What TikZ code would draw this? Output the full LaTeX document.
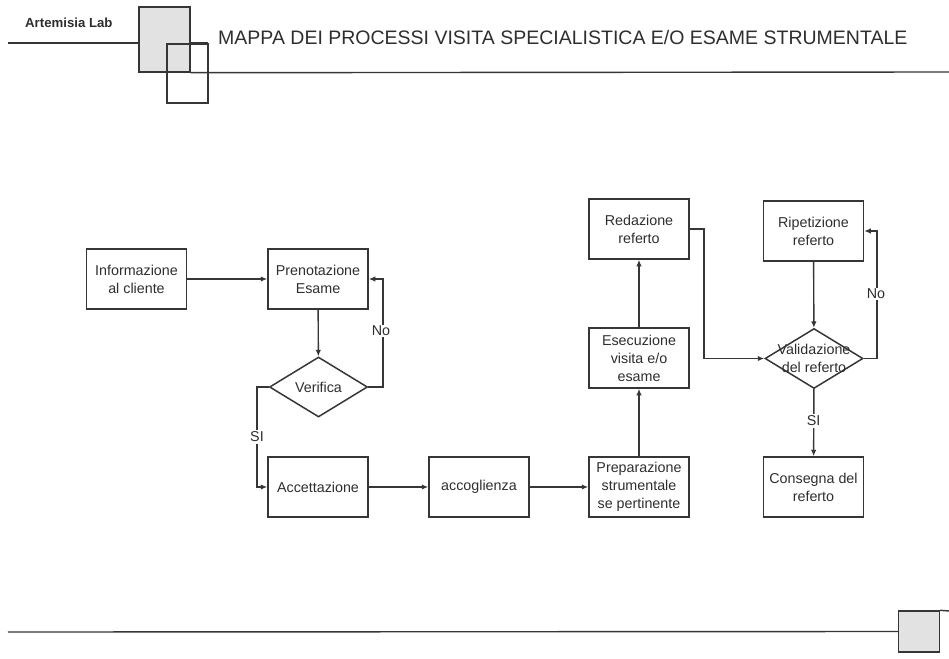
\documentclass[tikz,border=0pt]{standalone}
\usepackage{fontspec}
\setmainfont{Liberation Sans}
\usetikzlibrary{shapes.geometric,arrows.meta}
\definecolor{ln}{HTML}{363636}
\definecolor{tx}{HTML}{2E2E2E}
\definecolor{gbox}{HTML}{E2E2E2}
\begin{document}
\begin{tikzpicture}[x=1pt,y=-1pt,
  every node/.style={text=tx},
  box/.style={draw=ln,line width=1.5pt,minimum width=100pt,minimum height=60pt,inner sep=0pt,align=center,font=\fontsize{14.3}{18}\selectfont},
  dia/.style={draw=ln,line width=1.5pt,shape=diamond,minimum width=98pt,minimum height=60pt,inner sep=0pt},
  txt/.style={align=center,inner sep=0pt,font=\fontsize{14.3}{18}\selectfont},
  lbl/.style={fill=white,inner sep=1.5pt,font=\fontsize{14.3}{16}\selectfont},
  conn/.style={draw=ln,line width=1.4pt,-{Latex[length=6.5pt,width=5.5pt]}},
  deco/.style={draw=ln,line width=1.4pt}]
\useasboundingbox (0,0) rectangle (949,658);
% header
\draw[deco] (8,43) -- (208,43);
\node[deco,fill=gbox,minimum width=51pt,minimum height=65pt,inner sep=0pt] (g1) at (164.5,39.5) {};
\node[deco,minimum width=41pt,minimum height=59pt,inner sep=0pt] (g2) at (187.5,73.5) {};
\draw[deco] (g1.south east) -- (949,72);
\node[anchor=west,inner sep=0pt,font=\fontsize{13.2}{15}\selectfont\bfseries] (lab) at (25,23) {Artemisia Lab};
\node[anchor=west,inner sep=0pt,font=\fontsize{19.5}{22}\selectfont] (title) at (218,38) {MAPPA DEI PROCESSI VISITA SPECIALISTICA E/O ESAME STRUMENTALE};
% footer
\node[deco,fill=gbox,minimum width=41pt,minimum height=41pt,inner sep=0pt] (g3) at (919,631.5) {};
\draw[deco] (8,632) -- (g3.west);
\draw[deco] (g3.north east) -- (949,611);
% nodes
\node[box] (info) at (136.5,279) {Informazione\\al cliente};
\node[box] (pren) at (318,279) {Prenotazione\\Esame};
\node[dia] (ver) at (318.5,387) {};
\node[txt] (vert) at (ver) {Verifica};
\node[box] (acc) at (318,487) {Accettazione};
\node[box] (accog) at (479,487) {accoglienza};
\node[box] (prep) at (639,487) {Preparazione\\strumentale\\se pertinente};
\node[box] (ese) at (639,358) {Esecuzione\\visita e/o\\esame};
\node[box] (red) at (639,229) {Redazione\\referto};
\node[box] (rip) at (813.5,231) {Ripetizione\\referto};
\node[dia] (val) at (814,358.5) {};
\node[txt] (valt) at (val) {Validazione\\del referto};
\node[box] (cons) at (813.5,487) {Consegna del\\referto};
% connectors
\draw[conn] (info) -- (pren);
\draw[conn] (pren) -- (ver);
\coordinate (v1) at (383,387);
\coordinate (v2) at (383,279);
\draw[conn] (ver.east) -- (v1) -- (v2) -- (pren.east);
\node[lbl] (no1) at (381,331) {No};
\coordinate (s1) at (257,387);
\coordinate (s2) at (257,487);
\draw[conn] (ver.west) -- (s1) -- (s2) -- (acc.west);
\node[lbl] (si1) at (257,437) {SI};
\draw[conn] (acc) -- (accog);
\draw[conn] (accog) -- (prep);
\draw[conn] (prep) -- (ese);
\draw[conn] (ese) -- (red);
\coordinate (r1) at (704,229);
\coordinate (r2) at (704,358.5);
\draw[conn] (red.east) -- (r1) -- (r2) -- (val.west);
\draw[conn] (rip) -- (val);
\coordinate (w1) at (877,358.5);
\coordinate (w2) at (877,231);
\draw[conn] (val.east) -- (w1) -- (w2) -- (rip.east);
\node[lbl] (no2) at (876,294) {No};
\draw[conn] (val) -- (cons);
\node[lbl] (si2) at (813.5,421) {SI};
\end{tikzpicture}
\end{document}
